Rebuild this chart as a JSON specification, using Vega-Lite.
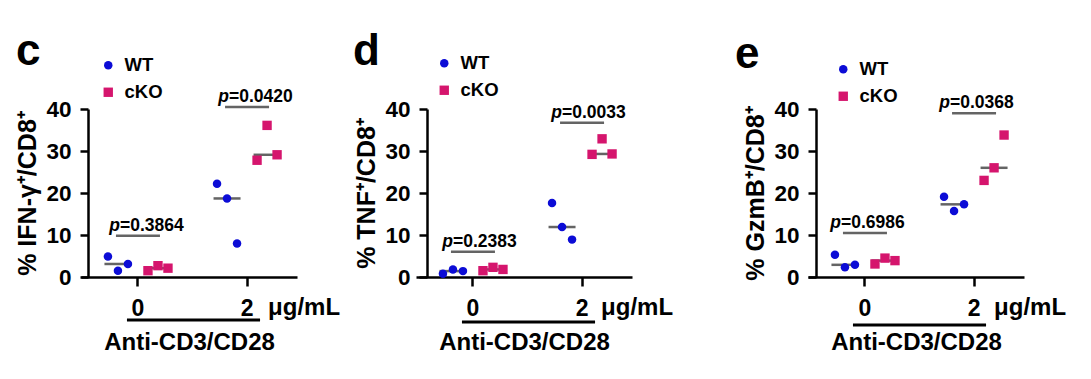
{
  "$schema": "https://vega.github.io/schema/vega-lite/v6.json",
  "padding": {"left": 15, "top": 30, "right": 5, "bottom": 5},
  "background": "white",
  "config": {
    "font": "Liberation Sans",
    "view": {"stroke": null},
    "axis": {"domainColor": "black", "tickColor": "black", "labelColor": "black", "titleColor": "black", "grid": false, "domainWidth": 2.5, "tickWidth": 2.5, "labelFontWeight": "bold", "titleFontWeight": "bold", "labelFont": "Liberation Sans", "titleFont": "Liberation Sans"},
    "legend": {"orient": "none", "title": null, "labelFontSize": 18.5, "labelFontWeight": "bold", "labelColor": "black", "symbolSize": 115, "rowPadding": 8, "labelOffset": 7, "symbolStrokeWidth": 0},
    "title": {"fontSize": 44, "fontWeight": "bold", "color": "black", "anchor": "start", "frame": "group"},
    "text": {"color": "black", "fontWeight": "bold"}
  },
  "bounds": "flush",
  "spacing": 119,
  "resolve": {"scale": {"color": "independent", "shape": "independent", "size": "independent", "xOffset": "independent"}},
  "hconcat": [
    {
      "width": 216, "height": 168,
      "title": {"text": "c", "dx": -65, "dy": 22},
      "data": {"values": [
        {"dose": "0", "genotype": "WT", "rep": 1, "value": 4.9},
        {"dose": "0", "genotype": "WT", "rep": 2, "value": 1.5},
        {"dose": "0", "genotype": "WT", "rep": 3, "value": 3.1},
        {"dose": "0", "genotype": "cKO", "rep": 1, "value": 1.5},
        {"dose": "0", "genotype": "cKO", "rep": 2, "value": 2.7},
        {"dose": "0", "genotype": "cKO", "rep": 3, "value": 2.1},
        {"dose": "2", "genotype": "WT", "rep": 1, "value": 22.2},
        {"dose": "2", "genotype": "WT", "rep": 2, "value": 18.7},
        {"dose": "2", "genotype": "WT", "rep": 3, "value": 8.0},
        {"dose": "2", "genotype": "cKO", "rep": 1, "value": 27.8},
        {"dose": "2", "genotype": "cKO", "rep": 2, "value": 36.1},
        {"dose": "2", "genotype": "cKO", "rep": 3, "value": 29.1}
      ]},
      "layer": [
        {
          "transform": [
            {"aggregate": [{"op": "median", "field": "value", "as": "median"}], "groupby": ["dose", "genotype"]},
            {"calculate": "datum.genotype + '2'", "as": "slot"}
          ],
          "mark": {"type": "tick", "orient": "horizontal", "color": "#222222", "thickness": 2.5, "size": 27},
          "encoding": {
            "x": {"field": "dose", "type": "nominal", "scale": {"domain": ["0", "2"], "paddingInner": 0.358, "paddingOuter": 0.169, "align": 0.595, "round": false},
                  "axis": {"title": "Anti-CD3/CD28", "titleFontSize": 24, "labelFontSize": 23, "labelAngle": 0, "tickSize": 9, "labelPadding": 11, "titlePadding": 10}},
            "xOffset": {"field": "slot", "type": "nominal", "scale": {"type": "point", "domain": ["WT1", "WT2", "WT3", "gap", "cKO1", "cKO2", "cKO3"], "padding": 0.5}},
            "y": {"field": "median", "type": "quantitative", "scale": {"domain": [0, 40], "nice": false},
                  "axis": {"values": [0, 10, 20, 30, 40], "title": "% IFN-γ⁺/CD8⁺", "titleFontSize": 25, "labelFontSize": 22.5, "tickSize": 8, "offset": -7, "labelPadding": 9, "titlePadding": 5}}
          }
        },
        {
          "transform": [{"calculate": "datum.genotype + datum.rep", "as": "slot"}],
          "mark": {"type": "point", "filled": true, "opacity": 1},
          "encoding": {
            "x": {"field": "dose", "type": "nominal"},
            "xOffset": {"field": "slot", "type": "nominal"},
            "y": {"field": "value", "type": "quantitative"},
            "color": {"field": "genotype", "type": "nominal", "scale": {"domain": ["WT", "cKO"], "range": ["#0c0cd6", "#d5156d"]}, "legend": {"legendX": 18, "legendY": -53}},
            "shape": {"field": "genotype", "type": "nominal", "scale": {"domain": ["WT", "cKO"], "range": ["circle", "square"]}, "legend": {"legendX": 18, "legendY": -53}},
            "size": {"field": "genotype", "type": "nominal", "scale": {"domain": ["WT", "cKO"], "range": [72, 88]}, "legend": null}
          }
        },
        {
          "data": {"values": [{"dose": "0", "p": "=0.3864", "bar": 9.8}, {"dose": "2", "p": "=0.0420", "bar": 40.5}]},
          "layer": [
            {"mark": {"type": "tick", "orient": "horizontal", "color": "#222222", "thickness": 2.5, "size": 44},
             "encoding": {"x": {"field": "dose", "type": "nominal"}, "y": {"field": "bar", "type": "quantitative"}}},
            {"mark": {"type": "text", "text": "p", "fontStyle": "italic", "fontSize": 17.5, "align": "right", "baseline": "alphabetic", "dx": -18, "dy": -5},
             "encoding": {"x": {"field": "dose", "type": "nominal"}, "y": {"field": "bar", "type": "quantitative"}}},
            {"mark": {"type": "text", "fontSize": 17.5, "align": "left", "baseline": "alphabetic", "dx": -18, "dy": -5},
             "encoding": {"x": {"field": "dose", "type": "nominal"}, "y": {"field": "bar", "type": "quantitative"}, "text": {"field": "p"}}}
          ]
        },
        {
          "data": {"values": [{"dose": "2", "unit": "μg/mL"}]},
          "mark": {"type": "text", "fontSize": 24, "align": "left", "baseline": "alphabetic", "dx": 21, "dy": 38},
          "encoding": {"x": {"field": "dose", "type": "nominal"}, "y": {"datum": 0}, "text": {"field": "unit"}}
        },
        {
          "data": {"values": [{"from": "0", "to": "2"}]},
          "mark": {"type": "rule", "strokeWidth": 3, "color": "black", "xOffset": -11, "x2Offset": 13, "yOffset": 43},
          "encoding": {"x": {"field": "from", "type": "nominal"}, "x2": {"field": "to"}, "y": {"datum": 0}}
        }
      ]
    },
    {
      "width": 273, "height": 168,
      "title": {"text": "d", "dx": -63, "dy": 24},
      "data": {"values": [
        {"dose": "0", "genotype": "WT", "rep": 1, "value": 0.8},
        {"dose": "0", "genotype": "WT", "rep": 2, "value": 1.8},
        {"dose": "0", "genotype": "WT", "rep": 3, "value": 1.4},
        {"dose": "0", "genotype": "cKO", "rep": 1, "value": 1.5},
        {"dose": "0", "genotype": "cKO", "rep": 2, "value": 2.3},
        {"dose": "0", "genotype": "cKO", "rep": 3, "value": 1.8},
        {"dose": "2", "genotype": "WT", "rep": 1, "value": 17.6},
        {"dose": "2", "genotype": "WT", "rep": 2, "value": 11.9},
        {"dose": "2", "genotype": "WT", "rep": 3, "value": 8.9},
        {"dose": "2", "genotype": "cKO", "rep": 1, "value": 29.2},
        {"dose": "2", "genotype": "cKO", "rep": 2, "value": 32.9},
        {"dose": "2", "genotype": "cKO", "rep": 3, "value": 29.3}
      ]},
      "layer": [
        {
          "transform": [
            {"aggregate": [{"op": "median", "field": "value", "as": "median"}], "groupby": ["dose", "genotype"]},
            {"calculate": "datum.genotype + '2'", "as": "slot"}
          ],
          "mark": {"type": "tick", "orient": "horizontal", "color": "#222222", "thickness": 2.5, "size": 27},
          "encoding": {
            "x": {"field": "dose", "type": "nominal", "scale": {"domain": ["0", "2"], "range": [0, 216], "paddingInner": 0.358, "paddingOuter": 0.169, "align": 0.595, "round": false},
                  "axis": {"title": "Anti-CD3/CD28", "titleFontSize": 24, "labelFontSize": 23, "labelAngle": 0, "tickSize": 9, "labelPadding": 11, "titlePadding": 10}},
            "xOffset": {"field": "slot", "type": "nominal", "scale": {"type": "point", "domain": ["WT1", "WT2", "WT3", "gap", "cKO1", "cKO2", "cKO3"], "padding": 0.5}},
            "y": {"field": "median", "type": "quantitative", "scale": {"domain": [0, 40], "nice": false},
                  "axis": {"values": [0, 10, 20, 30, 40], "title": "% TNF⁺/CD8⁺", "titleFontSize": 25, "labelFontSize": 22.5, "tickSize": 8, "offset": -11, "labelPadding": 9, "titlePadding": 5}}
          }
        },
        {
          "transform": [{"calculate": "datum.genotype + datum.rep", "as": "slot"}],
          "mark": {"type": "point", "filled": true, "opacity": 1},
          "encoding": {
            "x": {"field": "dose", "type": "nominal"},
            "xOffset": {"field": "slot", "type": "nominal"},
            "y": {"field": "value", "type": "quantitative"},
            "color": {"field": "genotype", "type": "nominal", "scale": {"domain": ["WT", "cKO"], "range": ["#0c0cd6", "#d5156d"]}, "legend": {"legendX": 19, "legendY": -55}},
            "shape": {"field": "genotype", "type": "nominal", "scale": {"domain": ["WT", "cKO"], "range": ["circle", "square"]}, "legend": {"legendX": 19, "legendY": -55}},
            "size": {"field": "genotype", "type": "nominal", "scale": {"domain": ["WT", "cKO"], "range": [72, 88]}, "legend": null}
          }
        },
        {
          "data": {"values": [{"dose": "0", "p": "=0.2383", "bar": 6.0}, {"dose": "2", "p": "=0.0033", "bar": 36.7}]},
          "layer": [
            {"mark": {"type": "tick", "orient": "horizontal", "color": "#222222", "thickness": 2.5, "size": 44},
             "encoding": {"x": {"field": "dose", "type": "nominal"}, "y": {"field": "bar", "type": "quantitative"}}},
            {"mark": {"type": "text", "text": "p", "fontStyle": "italic", "fontSize": 17.5, "align": "right", "baseline": "alphabetic", "dx": -20, "dy": -5},
             "encoding": {"x": {"field": "dose", "type": "nominal"}, "y": {"field": "bar", "type": "quantitative"}}},
            {"mark": {"type": "text", "fontSize": 17.5, "align": "left", "baseline": "alphabetic", "dx": -20, "dy": -5},
             "encoding": {"x": {"field": "dose", "type": "nominal"}, "y": {"field": "bar", "type": "quantitative"}, "text": {"field": "p"}}}
          ]
        },
        {
          "data": {"values": [{"dose": "2", "unit": "μg/mL"}]},
          "mark": {"type": "text", "fontSize": 24, "align": "left", "baseline": "alphabetic", "dx": 19, "dy": 38},
          "encoding": {"x": {"field": "dose", "type": "nominal"}, "y": {"datum": 0}, "text": {"field": "unit"}}
        },
        {
          "data": {"values": [{"from": "0", "to": "2"}]},
          "mark": {"type": "rule", "strokeWidth": 3, "color": "black", "xOffset": -11, "x2Offset": 13, "yOffset": 45},
          "encoding": {"x": {"field": "from", "type": "nominal"}, "x2": {"field": "to"}, "y": {"datum": 0}}
        }
      ]
    },
    {
      "width": 216, "height": 168,
      "title": {"text": "e", "dx": -73, "dy": 21},
      "data": {"values": [
        {"dose": "0", "genotype": "WT", "rep": 1, "value": 5.3},
        {"dose": "0", "genotype": "WT", "rep": 2, "value": 2.3},
        {"dose": "0", "genotype": "WT", "rep": 3, "value": 2.9},
        {"dose": "0", "genotype": "cKO", "rep": 1, "value": 3.1},
        {"dose": "0", "genotype": "cKO", "rep": 2, "value": 4.5},
        {"dose": "0", "genotype": "cKO", "rep": 3, "value": 3.9},
        {"dose": "2", "genotype": "WT", "rep": 1, "value": 19.1},
        {"dose": "2", "genotype": "WT", "rep": 2, "value": 15.7},
        {"dose": "2", "genotype": "WT", "rep": 3, "value": 17.3},
        {"dose": "2", "genotype": "cKO", "rep": 1, "value": 23.0},
        {"dose": "2", "genotype": "cKO", "rep": 2, "value": 26.0},
        {"dose": "2", "genotype": "cKO", "rep": 3, "value": 33.8}
      ]},
      "layer": [
        {
          "transform": [
            {"aggregate": [{"op": "median", "field": "value", "as": "median"}], "groupby": ["dose", "genotype"]},
            {"calculate": "datum.genotype + '2'", "as": "slot"}
          ],
          "mark": {"type": "tick", "orient": "horizontal", "color": "#222222", "thickness": 2.5, "size": 27},
          "encoding": {
            "x": {"field": "dose", "type": "nominal", "scale": {"domain": ["0", "2"], "paddingInner": 0.358, "paddingOuter": 0.169, "align": 0.595, "round": false},
                  "axis": {"title": "Anti-CD3/CD28", "titleFontSize": 24, "labelFontSize": 23, "labelAngle": 0, "tickSize": 9, "labelPadding": 11, "titlePadding": 10}},
            "xOffset": {"field": "slot", "type": "nominal", "scale": {"type": "point", "domain": ["WT1", "WT2", "WT3", "gap", "cKO1", "cKO2", "cKO3"], "padding": 0.5}},
            "y": {"field": "median", "type": "quantitative", "scale": {"domain": [0, 40], "nice": false},
                  "axis": {"values": [0, 10, 20, 30, 40], "title": "% GzmB⁺/CD8⁺", "titleFontSize": 25, "labelFontSize": 22.5, "tickSize": 8, "offset": -8, "labelPadding": 9, "titlePadding": 5}}
          }
        },
        {
          "transform": [{"calculate": "datum.genotype + datum.rep", "as": "slot"}],
          "mark": {"type": "point", "filled": true, "opacity": 1},
          "encoding": {
            "x": {"field": "dose", "type": "nominal"},
            "xOffset": {"field": "slot", "type": "nominal"},
            "y": {"field": "value", "type": "quantitative"},
            "color": {"field": "genotype", "type": "nominal", "scale": {"domain": ["WT", "cKO"], "range": ["#0c0cd6", "#d5156d"]}, "legend": {"legendX": 26, "legendY": -49}},
            "shape": {"field": "genotype", "type": "nominal", "scale": {"domain": ["WT", "cKO"], "range": ["circle", "square"]}, "legend": {"legendX": 26, "legendY": -49}},
            "size": {"field": "genotype", "type": "nominal", "scale": {"domain": ["WT", "cKO"], "range": [72, 88]}, "legend": null}
          }
        },
        {
          "data": {"values": [{"dose": "0", "p": "=0.6986", "bar": 10.5}, {"dose": "2", "p": "=0.0368", "bar": 39.0}]},
          "layer": [
            {"mark": {"type": "tick", "orient": "horizontal", "color": "#222222", "thickness": 2.5, "size": 44},
             "encoding": {"x": {"field": "dose", "type": "nominal"}, "y": {"field": "bar", "type": "quantitative"}}},
            {"mark": {"type": "text", "text": "p", "fontStyle": "italic", "fontSize": 17.5, "align": "right", "baseline": "alphabetic", "dx": -24, "dy": -5},
             "encoding": {"x": {"field": "dose", "type": "nominal"}, "y": {"field": "bar", "type": "quantitative"}}},
            {"mark": {"type": "text", "fontSize": 17.5, "align": "left", "baseline": "alphabetic", "dx": -24, "dy": -5},
             "encoding": {"x": {"field": "dose", "type": "nominal"}, "y": {"field": "bar", "type": "quantitative"}, "text": {"field": "p"}}}
          ]
        },
        {
          "data": {"values": [{"dose": "2", "unit": "μg/mL"}]},
          "mark": {"type": "text", "fontSize": 24, "align": "left", "baseline": "alphabetic", "dx": 20, "dy": 38},
          "encoding": {"x": {"field": "dose", "type": "nominal"}, "y": {"datum": 0}, "text": {"field": "unit"}}
        },
        {
          "data": {"values": [{"from": "0", "to": "2"}]},
          "mark": {"type": "rule", "strokeWidth": 3, "color": "black", "xOffset": -12, "x2Offset": 12, "yOffset": 48},
          "encoding": {"x": {"field": "from", "type": "nominal"}, "x2": {"field": "to"}, "y": {"datum": 0}}
        }
      ]
    }
  ]
}
